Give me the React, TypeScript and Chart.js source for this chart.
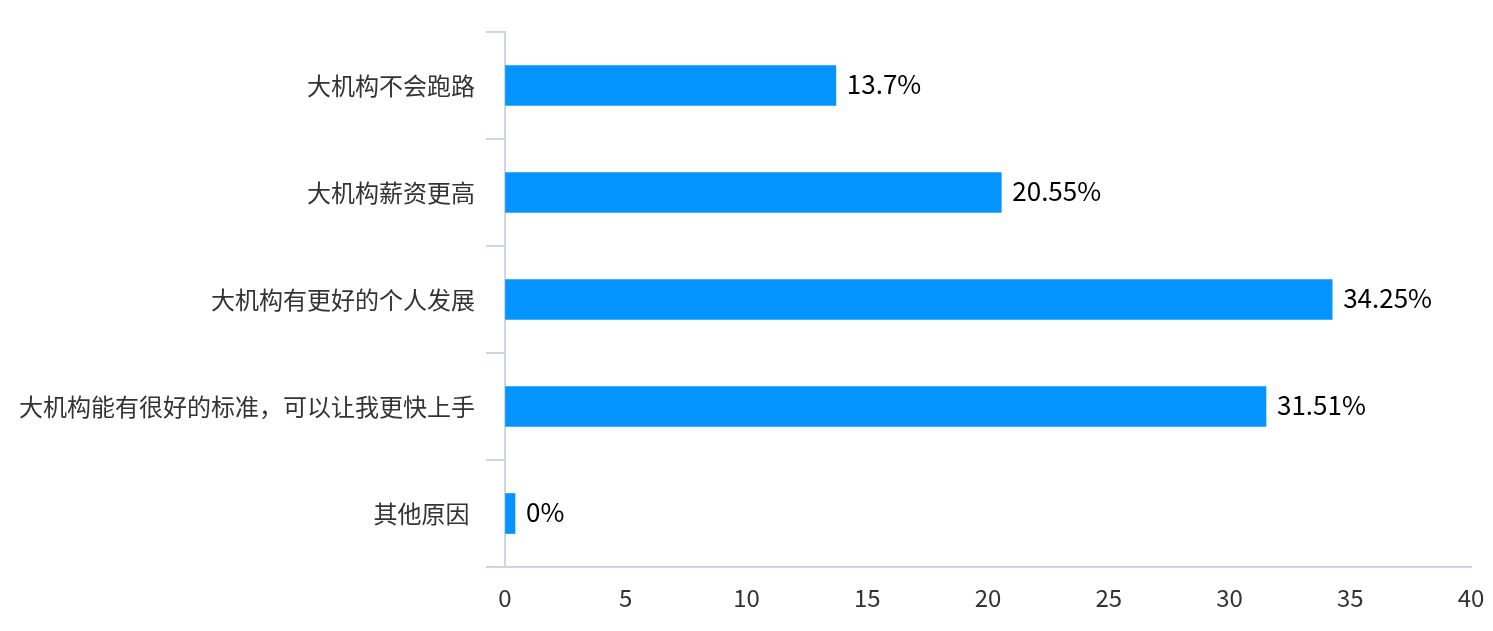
import React, { useEffect, useRef } from "react";
import { Chart, registerables, Plugin } from "chart.js";

Chart.register(...registerables);

const categories = [
  "大机构不会跑路",
  "大机构薪资更高",
  "大机构有更好的个人发展",
  "大机构能有很好的标准，可以让我更快上手",
  "其他原因 ",
];
const shares = [13.7, 20.55, 34.25, 31.51, 0];
const valueLabels = ["13.7%", "20.55%", "34.25%", "31.51%", "0%"];

const FONT = "'Noto Sans CJK SC', 'Noto Sans', sans-serif";
const AXIS = "#ccd6eb";

// 柱子右侧的数值标签
const barLabels: Plugin<"bar"> = {
  id: "barLabels",
  afterDatasetsDraw(chart) {
    const { ctx } = chart;
    const meta = chart.getDatasetMeta(0);
    ctx.save();
    ctx.font = `26px ${FONT}`;
    ctx.fillStyle = "#000";
    ctx.textAlign = "left";
    ctx.textBaseline = "middle";
    meta.data.forEach((bar, i) => {
      ctx.fillText(valueLabels[i], bar.x + 11, bar.y - 1);
    });
    ctx.restore();
  },
};

const App: React.FC = () => {
  const canvasRef = useRef<HTMLCanvasElement>(null);
  const chartRef = useRef<Chart | null>(null);

  useEffect(() => {
    if (!canvasRef.current) return;
    if (chartRef.current) chartRef.current.destroy();

    chartRef.current = new Chart(canvasRef.current, {
      type: "bar",
      data: {
        labels: categories,
        datasets: [
          {
            data: shares,
            backgroundColor: "#0494ff",
            barThickness: 40,
            minBarLength: 10,
          },
        ],
      },
      options: {
        indexAxis: "y",
        responsive: true,
        maintainAspectRatio: false,
        animation: false,
        layout: { padding: { top: 32, right: 22, left: 0, bottom: 0 } },
        plugins: {
          legend: { display: false },
          tooltip: { enabled: false },
        },
        scales: {
          x: {
            min: 0,
            max: 40,
            ticks: {
              stepSize: 5,
              color: "#333",
              font: { family: FONT, size: 24 },
              padding: 16,
            },
            grid: { drawOnChartArea: false, drawTicks: false },
            border: { display: true, color: AXIS, width: 2 },
            afterFit: (scale) => {
              scale.height = 64;
              scale.paddingLeft = 0;
              scale.paddingRight = 0;
            },
          },
          y: {
            ticks: {
              color: "#333",
              font: { family: FONT, size: 24 },
              padding: 11,
            },
            grid: {
              offset: true,
              drawOnChartArea: false,
              drawTicks: true,
              tickLength: 19,
              color: AXIS,
              lineWidth: 2,
            },
            border: { display: true, color: AXIS, width: 2 },
            afterFit: (scale) => {
              scale.width = 505;
            },
          },
        },
      },
      plugins: [barLabels],
    });

    return () => {
      if (chartRef.current) {
        chartRef.current.destroy();
        chartRef.current = null;
      }
    };
  }, []);

  return (
    <div
      style={{
        position: "absolute",
        left: 0,
        top: 0,
        width: "1493px",
        height: "631px",
        background: "#fff",
      }}
    >
      <canvas ref={canvasRef}></canvas>
    </div>
  );
};

export default App;
